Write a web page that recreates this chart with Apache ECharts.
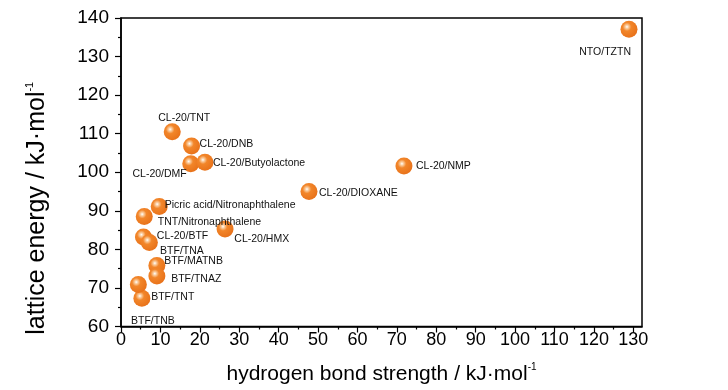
<!DOCTYPE html>
<html>
<head>
<meta charset="utf-8">
<script src="https://cdn.jsdelivr.net/npm/echarts@6/dist/echarts.min.js"></script>
<style>
html,body{margin:0;padding:0;background:#fff;}
#chart{width:728px;height:390px;}
</style>
</head>
<body>
<div id="chart"></div>
<script>
// ---- data ----
var names = ['NTO/TZTN','CL-20/TNT','CL-20/DNB','CL-20/DMF','CL-20/Butyolactone','CL-20/NMP','CL-20/DIOXANE',
  'Picric acid/Nitronaphthalene','TNT/Nitronaphthalene','CL-20/HMX','CL-20/BTF','BTF/TNA','BTF/MATNB','BTF/TNAZ','BTF/TNT','BTF/TNB'];
var hbStrength = [128.9, 13.0, 17.9, 17.7, 21.3, 71.8, 47.7, 9.7, 5.9, 26.4, 5.7, 7.2, 9.1, 9.1, 5.3, 4.4];
var latticeEnergy = [137.1, 110.5, 106.8, 102.2, 102.6, 101.6, 95.0, 91.1, 88.5, 85.3, 83.2, 81.8, 75.8, 73.1, 67.3, 70.9];
var xTicks = [0,10,20,30,40,50,60,70,80,90,100,110,120,130];
var yTicks = [60,70,80,90,100,110,120,130,140];

// ---- label placement (style only): align, dx, dy from point centre ----
var labelPlace = {
  'NTO/TZTN': ['right', 2, 21],
  'CL-20/TNT': ['left', -14, -15.5],
  'CL-20/DNB': ['left', 8, -4],
  'CL-20/DMF': ['right', -4, 8],
  'CL-20/Butyolactone': ['left', 8, -1.5],
  'CL-20/NMP': ['left', 12, -2],
  'CL-20/DIOXANE': ['left', 10, -0.5],
  'Picric acid/Nitronaphthalene': ['left', 5.5, -3.5],
  'TNT/Nitronaphthalene': ['left', 13.5, 3.7],
  'CL-20/HMX': ['left', 9.3, 8.6],
  'CL-20/BTF': ['left', 13.4, -3.3],
  'BTF/TNA': ['left', 10.7, 6.4],
  'BTF/MATNB': ['left', 7.3, -6],
  'BTF/TNAZ': ['left', 14.3, 0.7],
  'BTF/TNT': ['left', 9.3, -3.4],
  'BTF/TNB': ['left', -7.3, 34.3]
};
var LABEL_DY = 2;

var FONT = 'Liberation Sans, Arial, sans-serif';
var SYM = 17;
var ball = {
  type: 'radial', x: 0.38, y: 0.36, r: 0.66,
  colorStops: [
    {offset: 0, color: '#ffffff'},
    {offset: 0.13, color: '#fbd2a8'},
    {offset: 0.38, color: '#f2862a'},
    {offset: 1, color: '#e8721a'}
  ]
};

var seriesData = names.map(function (n, i) {
  var p = labelPlace[n];
  return {
    name: n,
    value: [hbStrength[i], latticeEnergy[i]],
    label: { align: p[0], verticalAlign: 'middle', position: [SYM / 2 + p[1], SYM / 2 + p[2] + LABEL_DY] }
  };
});

var chart = echarts.init(document.getElementById('chart'), null, {renderer: 'canvas'});
chart.setOption({
  animation: false,
  backgroundColor: '#fff',
  grid: {left: 121, right: 86, top: 18, bottom: 61, show: true, borderColor: '#000', borderWidth: 1.5, backgroundColor: 'transparent'},
  xAxis: {
    type: 'value', min: 0, max: 132.2, interval: 10,
    name: '{m|hydrogen bond strength / kJ·mol}{s|-1}',
    nameLocation: 'middle', nameGap: 36,
    nameTextStyle: {rich: {m: {fontSize: 21, fontFamily: FONT, color: '#000'}, s: {fontSize: 10, fontFamily: FONT, color: '#000', padding: [0, 0, 14, 0]}}},
    axisLine: {lineStyle: {color: '#000', width: 1.5}},
    axisTick: {show: true, length: 6, inside: false, customValues: xTicks, lineStyle: {color: '#000', width: 1.2}},
    minorTick: {show: true, splitNumber: 2, length: 3, lineStyle: {color: '#000', width: 1.2}},
    axisLabel: {customValues: xTicks, margin: 5, fontSize: 18, fontFamily: FONT, color: '#000'},
    splitLine: {show: false}
  },
  yAxis: {
    type: 'value', min: 60, max: 140, interval: 10,
    name: '{m|lattice energy / kJ·mol}{s|-1}',
    nameLocation: 'middle', nameGap: 70, nameRotate: 90,
    nameTextStyle: {padding: [0, 72, 0, 0], rich: {m: {fontSize: 25, fontFamily: FONT, color: '#000'}, s: {fontSize: 11, fontFamily: FONT, color: '#000', padding: [0, 0, 16, 0]}}},
    axisLine: {lineStyle: {color: '#000', width: 1.5}},
    axisTick: {show: true, length: 6, inside: false, lineStyle: {color: '#000', width: 1.2}},
    minorTick: {show: true, splitNumber: 2, length: 3, lineStyle: {color: '#000', width: 1.2}},
    axisLabel: {margin: 12, fontSize: 19, fontFamily: FONT, color: '#000'},
    splitLine: {show: false}
  },
  series: [{
    type: 'scatter',
    symbol: 'circle',
    symbolSize: SYM,
    itemStyle: {color: ball, opacity: 1},
    label: {
      show: true,
      formatter: '{b}', fontSize: 10.5, fontFamily: FONT, color: '#111'
    },
    labelLayout: {hideOverlap: false},
    emphasis: {disabled: true},
    data: seriesData
  }]
});
</script>
</body>
</html>
